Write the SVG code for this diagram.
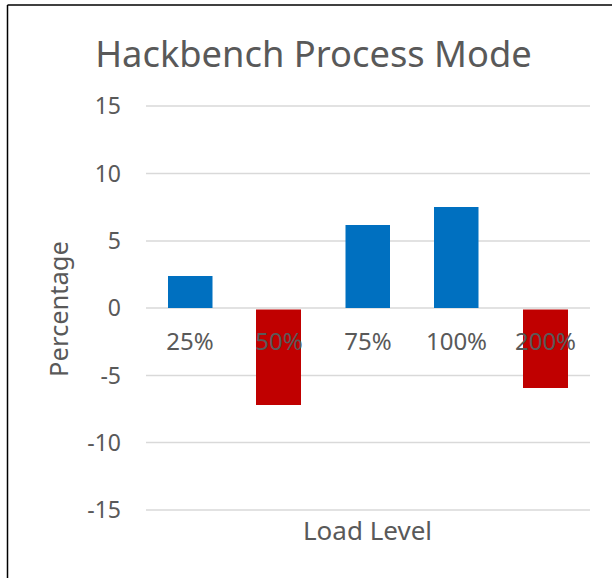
<svg xmlns="http://www.w3.org/2000/svg" width="612" height="578" viewBox="0 0 612 578">
<style>
text{font-family:"Noto Sans","Open Sans","Liberation Sans",sans-serif;fill:#595959}
.tick{font-size:23px;text-anchor:end}
.cat{font-size:24px;text-anchor:middle}
.grid{stroke:#D9D9D9;stroke-width:1.5}
.pos{fill:#0070C0}
.neg{fill:#C00000}
</style>
<rect x="0" y="0" width="612" height="578" fill="#fff"/>
<line x1="7.5" y1="5" x2="612" y2="5" stroke="#000" stroke-width="1.5"/>
<line x1="7.5" y1="5" x2="7.5" y2="578" stroke="#000" stroke-width="1.5"/>
<text id="title" x="313.5" y="67" font-size="36.3" text-anchor="middle">Hackbench Process Mode</text>
<g id="grid">
<line class="grid" x1="146" y1="106" x2="590" y2="106"/>
<line class="grid" x1="146" y1="173.5" x2="590" y2="173.5"/>
<line class="grid" x1="146" y1="241" x2="590" y2="241"/>
<line class="grid" x1="146" y1="308" x2="590" y2="308"/>
<line class="grid" x1="146" y1="375.5" x2="590" y2="375.5"/>
<line class="grid" x1="146" y1="442.5" x2="590" y2="442.5"/>
<line class="grid" x1="146" y1="510" x2="590" y2="510"/>
</g>
<g id="yticks">
<text class="tick" x="121" y="114">15</text>
<text class="tick" x="121" y="181.5">10</text>
<text class="tick" x="121" y="249">5</text>
<text class="tick" x="121" y="316">0</text>
<text class="tick" x="121" y="383.5">-5</text>
<text class="tick" x="121" y="450.5">-10</text>
<text class="tick" x="121" y="518">-15</text>
</g>
<g id="bars">
<rect id="b25" class="pos" x="168" y="276" width="44.5" height="32"/>
<rect id="b50" class="neg" x="256" y="309.5" width="45" height="95.5"/>
<rect id="b75" class="pos" x="345.5" y="225" width="44.5" height="83"/>
<rect id="b100" class="pos" x="434" y="207" width="44.5" height="101"/>
<rect id="b200" class="neg" x="523" y="309.5" width="45" height="78.5"/>
</g>
<g id="cats">
<text class="cat" x="190" y="349.5">25%</text>
<text class="cat" x="279" y="349.5">50%</text>
<text class="cat" x="368" y="349.5">75%</text>
<text class="cat" x="456.5" y="349.5">100%</text>
<text class="cat" x="545.5" y="349.5">200%</text>
</g>
<text id="ylabel" x="0" y="0" font-size="25.5" text-anchor="middle" transform="translate(68,309) rotate(-90)">Percentage</text>
<text id="xlabel" x="367.5" y="540" font-size="26" text-anchor="middle">Load Level</text>
</svg>
